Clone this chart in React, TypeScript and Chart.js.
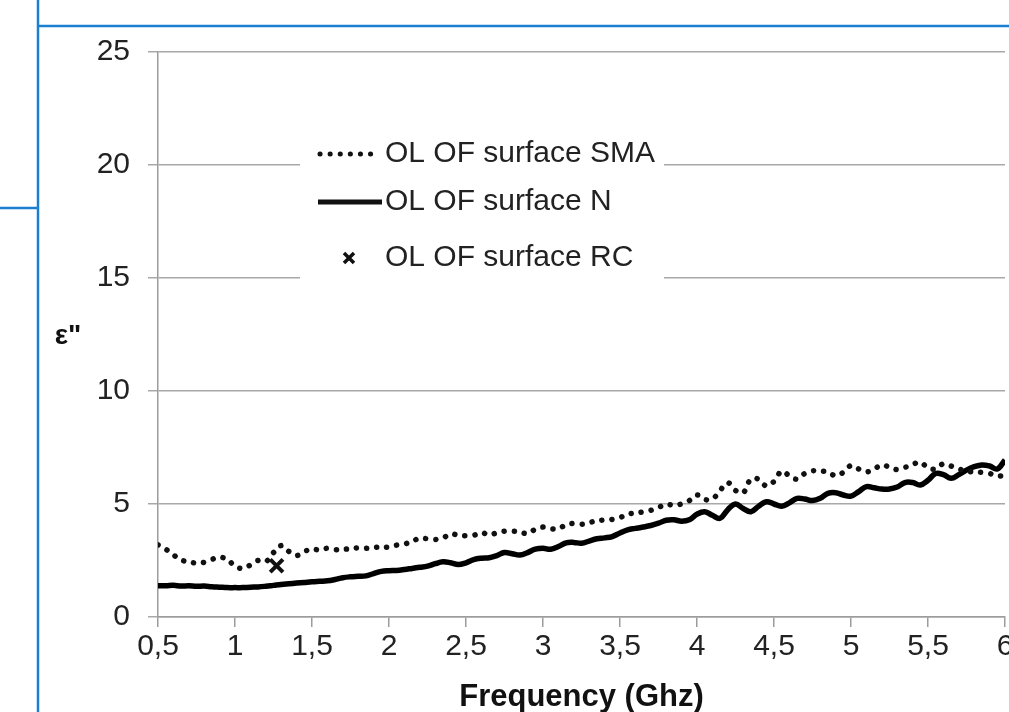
import React, { useEffect, useRef } from 'react';
import { Chart, registerables } from 'chart.js';

Chart.register(...registerables);

const FONT = "'Liberation Sans', Arial, Helvetica, sans-serif";

const seriesNames = ['OL OF surface SMA', 'OL OF surface N', 'OL OF surface RC'];
const xTitle = 'Frequency (Ghz)';
const yTitle = 'ε"';

const freq = [
  0.5, 0.55, 0.6, 0.65, 0.7, 0.75, 0.8, 0.85, 0.9, 0.95,
  1, 1.05, 1.1, 1.15, 1.2, 1.25, 1.3, 1.35, 1.4, 1.45,
  1.5, 1.55, 1.6, 1.65, 1.7, 1.75, 1.8, 1.85, 1.9, 1.95,
  2, 2.05, 2.1, 2.15, 2.2, 2.25, 2.3, 2.35, 2.4, 2.45,
  2.5, 2.55, 2.6, 2.65, 2.7, 2.75, 2.8, 2.85, 2.9, 2.95,
  3, 3.05, 3.1, 3.15, 3.2, 3.25, 3.3, 3.35, 3.4, 3.45,
  3.5, 3.55, 3.6, 3.65, 3.7, 3.75, 3.8, 3.85, 3.9, 3.95,
  4, 4.05, 4.1, 4.15, 4.2, 4.25, 4.3, 4.35, 4.4, 4.45,
  4.5, 4.55, 4.6, 4.65, 4.7, 4.75, 4.8, 4.85, 4.9, 4.95,
  5, 5.05, 5.1, 5.15, 5.2, 5.25, 5.3, 5.35, 5.4, 5.45,
  5.5, 5.55, 5.6, 5.65, 5.7, 5.75, 5.8, 5.85, 5.9, 5.95,
  6,
];

const smaValues = [
  3.19, 3.0, 2.75, 2.52, 2.45, 2.38, 2.42, 2.55, 2.64, 2.55,
  2.25, 2.15, 2.3, 2.5, 2.45, 2.85, 3.16, 2.9, 2.72, 2.9,
  3.0, 2.97, 3.04, 2.98, 3.0, 3.02, 3.06, 3.04, 3.08, 3.09,
  3.1, 3.18, 3.23, 3.35, 3.48, 3.46, 3.43, 3.5, 3.67, 3.62,
  3.6, 3.62, 3.73, 3.64, 3.72, 3.8, 3.8, 3.75, 3.7, 3.88,
  3.98, 3.9, 3.92, 4.07, 4.14, 4.1, 4.18, 4.25, 4.3, 4.32,
  4.4, 4.55, 4.6, 4.65, 4.72, 4.85, 4.98, 4.95, 5.0, 5.15,
  5.4, 5.2, 5.22, 5.6, 5.94, 5.6, 5.5, 6.1, 6.1, 5.8,
  6.0, 6.45, 6.25, 6.1, 6.35, 6.47, 6.45, 6.42, 6.25, 6.4,
  6.7, 6.55, 6.42, 6.55, 6.72, 6.63, 6.52, 6.62, 6.75, 6.85,
  6.6, 6.55, 6.78, 6.68, 6.55, 6.45, 6.42, 6.4, 6.35, 6.25,
  6.25,
];

const nValues = [
  1.38, 1.38, 1.4, 1.37, 1.38, 1.36, 1.37, 1.34, 1.32, 1.3,
  1.3, 1.3, 1.32, 1.33, 1.36, 1.4, 1.44, 1.47, 1.5, 1.53,
  1.56, 1.58, 1.6, 1.66, 1.74, 1.78, 1.8, 1.82, 1.92, 2.02,
  2.05, 2.06, 2.1, 2.15, 2.2, 2.25, 2.36, 2.44, 2.4, 2.32,
  2.4, 2.54, 2.6, 2.62, 2.72, 2.85, 2.8, 2.74, 2.85, 3.0,
  3.04, 3.0, 3.12, 3.28, 3.3, 3.26, 3.36, 3.46, 3.5, 3.56,
  3.72, 3.86, 3.92, 3.98, 4.05, 4.15, 4.28, 4.3, 4.24, 4.3,
  4.55, 4.66, 4.5, 4.37, 4.75, 5.0, 4.8, 4.66, 4.9, 5.1,
  5.0, 4.9, 5.05, 5.25, 5.22, 5.15, 5.25, 5.47, 5.5, 5.4,
  5.35, 5.55, 5.77, 5.72, 5.66, 5.66, 5.75, 5.95, 5.95, 5.84,
  6.05, 6.35, 6.3, 6.14, 6.3, 6.5, 6.65, 6.73, 6.68, 6.55,
  6.95,
];

const rcFreq = [1.27];
const rcValues = [2.27];

const xTickLabels = ['0,5', '1', '1,5', '2', '2,5', '3', '3,5', '4', '4,5', '5', '5,5', '6'];
const yTickLabels = ['0', '5', '10', '15', '20', '25'];

const CANVAS_W = 1060;
const CANVAS_H = 720;

const decorPlugin = {
  id: 'decor',
  beforeDraw(chart: any) {
    const ctx = chart.ctx;
    ctx.save();
    ctx.fillStyle = '#ffffff';
    ctx.fillRect(0, 0, chart.width, chart.height);
    ctx.restore();
  },
  afterDraw(chart: any) {
    const ctx = chart.ctx;
    const ca = chart.chartArea;
    ctx.save();

    // blue frame of the surrounding document
    ctx.strokeStyle = '#1b7fd1';
    ctx.lineWidth = 2.5;
    ctx.beginPath();
    ctx.moveTo(38, 0);
    ctx.lineTo(38, chart.height);
    ctx.moveTo(38, 26);
    ctx.lineTo(chart.width, 26);
    ctx.moveTo(0, 208);
    ctx.lineTo(38, 208);
    ctx.stroke();

    // y-axis title (horizontal)
    ctx.fillStyle = '#111';
    ctx.font = `bold 28px ${FONT}`;
    ctx.textAlign = 'center';
    ctx.textBaseline = 'middle';
    ctx.fillText(yTitle, 68, (ca.top + ca.bottom) / 2 + 2);

    // legend inside plot area
    const bx = ca.left + 142;
    const by = ca.top + 80;
    ctx.fillStyle = '#ffffff';
    ctx.fillRect(bx, by, 364, 160);

    const sampleX0 = bx + 18;
    const sampleX1 = bx + 80;
    const textX = bx + 85;
    const rows = [by + 22, by + 70, by + 126];

    ctx.strokeStyle = '#111';
    ctx.lineCap = 'round';
    ctx.lineWidth = 5;
    ctx.setLineDash([0.1, 10]);
    ctx.beginPath();
    ctx.moveTo(sampleX0 + 2, rows[0]);
    ctx.lineTo(sampleX1, rows[0]);
    ctx.stroke();

    ctx.setLineDash([]);
    ctx.lineCap = 'butt';
    ctx.lineWidth = 5;
    ctx.beginPath();
    ctx.moveTo(sampleX0, rows[1]);
    ctx.lineTo(sampleX1 + 2, rows[1]);
    ctx.stroke();

    const cx = (sampleX0 + sampleX1) / 2;
    ctx.lineWidth = 3.5;
    ctx.beginPath();
    ctx.moveTo(cx - 5, rows[2] - 5);
    ctx.lineTo(cx + 5, rows[2] + 5);
    ctx.moveTo(cx + 5, rows[2] - 5);
    ctx.lineTo(cx - 5, rows[2] + 5);
    ctx.stroke();

    ctx.fillStyle = '#222';
    ctx.font = `30px ${FONT}`;
    ctx.textAlign = 'left';
    ctx.textBaseline = 'middle';
    seriesNames.forEach((name, i) => ctx.fillText(name, textX, rows[i]));

    ctx.restore();
  },
};

export default function App() {
  const canvasRef = useRef<HTMLCanvasElement | null>(null);

  useEffect(() => {
    const canvas = canvasRef.current;
    if (!canvas) return;

    const smaData = freq.map((f, i) => ({ x: f, y: smaValues[i] }));
    const nData = freq.map((f, i) => ({ x: f, y: nValues[i] }));
    const rcData = rcFreq.map((f, i) => ({ x: f, y: rcValues[i] }));

    const chart = new Chart(canvas, {
      type: 'line',
      data: {
        datasets: [
          {
            label: seriesNames[0],
            data: smaData,
            borderColor: '#111',
            borderWidth: 5.5,
            borderDash: [0.1, 10],
            borderCapStyle: 'round',
            pointRadius: 0,
            tension: 0.4,
            fill: false,
          },
          {
            label: seriesNames[1],
            data: nData,
            borderColor: '#000',
            borderWidth: 5.5,
            pointRadius: 0,
            tension: 0.4,
            fill: false,
          },
          {
            label: seriesNames[2],
            data: rcData,
            showLine: false,
            pointStyle: 'crossRot',
            pointRadius: 9,
            pointBorderWidth: 4,
            borderColor: '#111',
            pointBorderColor: '#111',
          },
        ],
      } as any,
      options: {
        responsive: false,
        animation: false,
        devicePixelRatio: 1,
        layout: { padding: { left: 0, top: 52, right: CANVAS_W - 1005, bottom: 0 } },
        plugins: {
          legend: { display: false },
          tooltip: { enabled: false },
        },
        scales: {
          x: {
            type: 'linear',
            min: 0.5,
            max: 6,
            afterFit: (s: any) => {
              s.height = CANVAS_H - 617;
            },
            ticks: {
              stepSize: 0.5,
              autoSkip: false,
              maxRotation: 0,
              color: '#222',
              padding: 2,
              font: { family: FONT, size: 30 },
              callback: (value: any) => {
                const i = Math.round((Number(value) - 0.5) / 0.5);
                return xTickLabels[i] ?? '';
              },
            },
            grid: {
              drawOnChartArea: false,
              drawTicks: true,
              tickLength: 10,
              color: '#9c9c9c',
              lineWidth: 1.5,
            },
            border: { color: '#9c9c9c', width: 1.5 },
            title: {
              display: true,
              text: xTitle,
              color: '#111',
              font: { family: FONT, size: 31, weight: 'bold' },
              padding: { top: 0, bottom: 4 },
            },
          },
          y: {
            type: 'linear',
            min: 0,
            max: 25,
            afterFit: (s: any) => {
              s.width = 158;
            },
            ticks: {
              stepSize: 5,
              color: '#222',
              padding: 18,
              font: { family: FONT, size: 30 },
              callback: (value: any) => yTickLabels[Math.round(Number(value) / 5)] ?? '',
            },
            grid: {
              color: '#a8a8a8',
              lineWidth: 1.5,
              tickLength: 10,
            },
            border: { color: '#9c9c9c', width: 1.5 },
          },
        },
      } as any,
      plugins: [decorPlugin],
    });

    return () => chart.destroy();
  }, []);

  return (
    <div
      style={{
        position: 'fixed',
        left: 0,
        top: 0,
        width: 1009,
        height: 712,
        overflow: 'hidden',
        background: '#ffffff',
      }}
    >
      <canvas
        ref={canvasRef}
        width={CANVAS_W}
        height={CANVAS_H}
        style={{ position: 'absolute', left: 0, top: 0, width: CANVAS_W, height: CANVAS_H }}
      />
    </div>
  );
}
